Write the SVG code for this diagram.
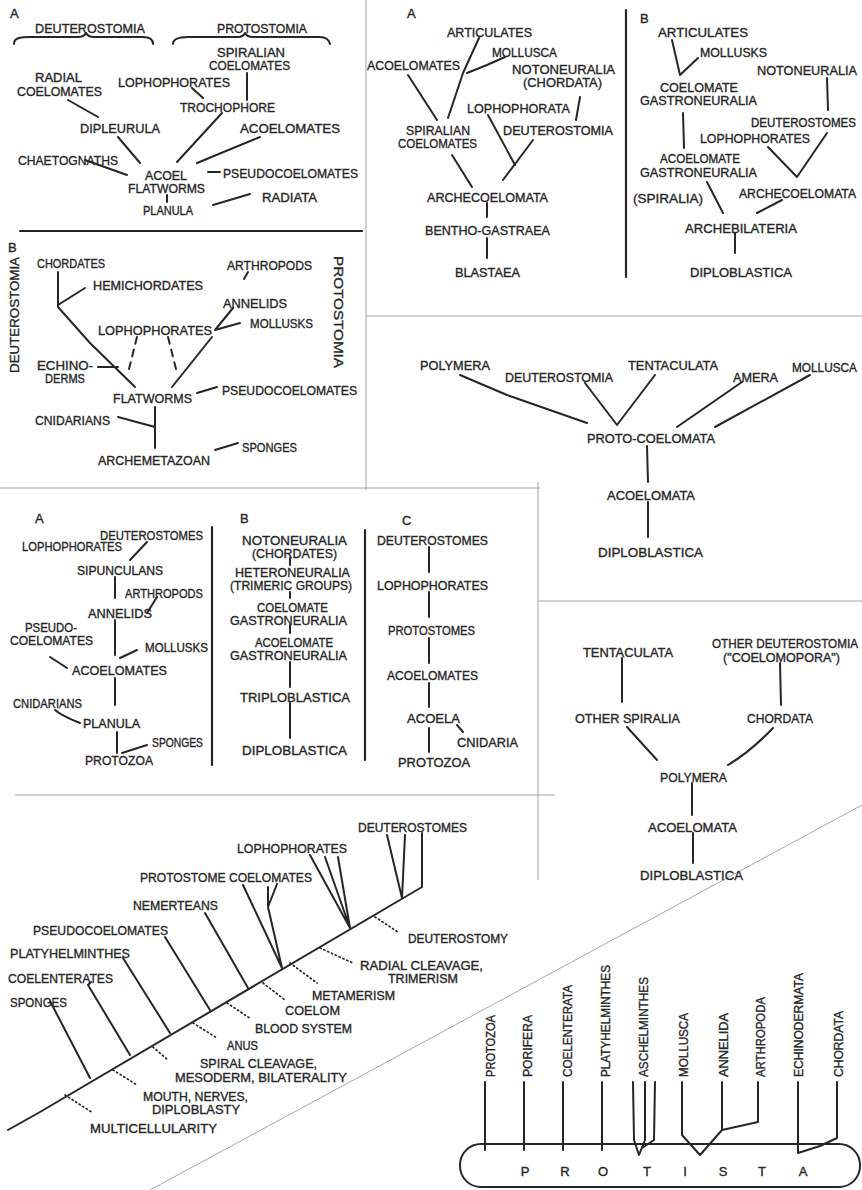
<svg xmlns="http://www.w3.org/2000/svg" width="862" height="1190" viewBox="0 0 862 1190">
<style>
.t{font-family:"Liberation Sans",Arial,sans-serif;font-size:13px;fill:#262626;stroke:#262626;stroke-width:0.35}
.s{font-size:12px}
.c{stroke:#262626;stroke-width:2;fill:none;stroke-linecap:round;stroke-linejoin:round}
.dot{stroke:#262626;stroke-width:1.7;fill:none;stroke-dasharray:1.2 3;stroke-linecap:round}
.dsh{stroke-dasharray:7 6}
.rule{stroke:#a6a6a6;stroke-width:1;fill:none}
.bar{stroke:#262626;stroke-width:2.2;fill:none;stroke-linecap:round}
</style>
<rect width="862" height="1190" fill="#ffffff"/>
<g id="frames">
<line class="rule" x1="366" y1="0" x2="366" y2="490"/>
<line class="rule" x1="366" y1="316" x2="862" y2="316"/>
<line class="rule" x1="0" y1="488" x2="540" y2="488"/>
<line class="rule" x1="538" y1="482" x2="538" y2="880"/>
<line class="rule" x1="538" y1="601" x2="862" y2="601"/>
<line class="rule" x1="15" y1="795" x2="555" y2="795"/>
<line class="rule" x1="150" y1="1190" x2="862" y2="805"/>
<line class="bar" x1="20" y1="231" x2="362" y2="231"/>
<line class="bar" x1="626" y1="10" x2="626" y2="277"/>
<line class="bar" x1="212" y1="527" x2="212" y2="765"/>
<line class="bar" x1="365" y1="530" x2="365" y2="760"/>
</g>
<g id="connectors">
<path class="c" d="M14,44 C14,38 20,37 30,37 L78,37 C83,37 85,35 86,33 C87,35 89,37 94,37 L143,37 C150,37 153,40 153,44"/>
<path class="c" d="M173,44 C173,39 178,37 188,37 L238,37 C242,37 244,35 245,33 C246,35 248,37 253,37 L320,37 C326,37 329,40 330,44"/>
<path class="c" d="M247,73 L247,100 M192,88 L203,98 M68,100 L98,117 M222,113 L177,162 M260,137 L197,163 M85,160 L127,175 M118,137 L140,163 M208,172 L220,172 M167,195 L167,202 M213,205 L250,194"/>
<path class="c" d="M479,38 L463,73 L448,118 M505,57 L487,65 L467,73 M408,75 L437,120 M580,97 L576,120 M488,115 L515,165 M533,140 L503,180 M452,155 L472,187 M487,203 L487,217 M487,238 L487,258"/>
<path class="c" d="M672,40 L680,75 L698,58 M683,113 L684,148 M827,78 L828,110 M768,147 L797,177 L827,133 M707,182 L723,213 M782,200 L757,213 M735,233 L735,253"/>
<path class="c" d="M58,272 L58,307 M85,288 L58,305 M58,307 L90,343 L135,387 M248,272 L244,279 M233,308 L215,330 M240,323 L215,330 M212,337 L172,387 M98,367 L118,367 M197,393 L217,387 M155,407 L155,448 M118,417 L155,427 M215,450 L238,443"/>
<path class="c dsh" d="M137,337 L128,373 M168,337 L177,373"/>
<path class="c" d="M460,375 L507,395 L587,423 M585,383 L617,425 L655,375 M742,382 L677,427 M810,375 L715,427 M647,446 L648,482 M648,502 L648,537"/>
<path class="c" d="M147,542 L130,560 M115,577 L115,598 M157,597 L147,613 M115,620 L115,655 M137,650 L120,658 M50,657 L67,668 M115,678 L115,705 M55,710 Q62,716 80,723 M117,732 L117,753 M147,745 L122,753"/>
<path class="c" d="M290,558 L290,565 M290,592 L290,598 M290,625 L290,633 M290,662 L290,687 M290,703 L290,738"/>
<path class="c" d="M429,547 L429,572 M429,592 L429,617 M429,638 L429,663 M429,683 L429,707 M457,725 L463,732 M429,728 L429,752"/>
<path class="c" d="M622,658 L622,702 M780,663 L781,705 M627,727 L657,760 M773,728 Q750,752 728,765 M692,783 L692,815 M693,833 L693,863"/>
<path class="c" d="M8,1130 L40,1112 L422,887 M90,1078 L50,1001 M130,1055 L88,985 L91,982 M170,1033 L123,958 M210,1010 L165,937 M248,988 L205,913 M282,968 L243,885 M282,968 L268,907 L268,887 M268,907 L277,884 M350,928 L310,855 M350,928 L325,857 M350,928 L338,857 M402,898 L387,835 M402,898 L405,835 M422,887 L422,833"/>
<path class="dot" d="M375,917 L398,932 M320,948 L353,963 M290,963 L317,983 M263,983 L285,1000 M227,1003 L251,1019 M193,1023 L217,1038 M153,1047 L168,1060 M113,1070 L137,1085 M65,1095 L93,1113"/>
<path class="c" d="M485,1082 L485,1150 M524,1082 L524,1150 M563,1082 L563,1150 M602,1082 L602,1150 M633,1082 L634,1140 L639,1155 L645,1140 L645,1082 M655,1082 L654,1140 L642,1148 M682,1082 L682,1135 L700,1155 L722,1130 L722,1082 M722,1130 L758,1122 L758,1082 M798,1082 L798,1153 L820,1146 L837,1138 L837,1082"/>
</g>
<g id="protista"><rect class="c" x="460" y="1144" width="400" height="43" rx="21"/>
<text class="t" x="525" y="1176" text-anchor="middle">P</text><text class="t" x="565" y="1176" text-anchor="middle">R</text><text class="t" x="603" y="1176" text-anchor="middle">O</text><text class="t" x="647" y="1176" text-anchor="middle">T</text><text class="t" x="685" y="1176" text-anchor="middle">I</text><text class="t" x="723" y="1176" text-anchor="middle">S</text><text class="t" x="762" y="1176" text-anchor="middle">T</text><text class="t" x="803" y="1176" text-anchor="middle">A</text></g>
<g id="p1-A"><text class="t" x="10" y="18">A</text></g>
<g id="p1-deuterostomia"><text class="t" x="35" y="33" textLength="110" lengthAdjust="spacingAndGlyphs">DEUTEROSTOMIA</text></g>
<g id="p1-protostomia"><text class="t" x="217" y="33" textLength="90" lengthAdjust="spacingAndGlyphs">PROTOSTOMIA</text></g>
<g id="p1-spiralian"><text class="t" x="217" y="57" textLength="68" lengthAdjust="spacingAndGlyphs">SPIRALIAN</text><text class="t" x="209" y="70" textLength="81" lengthAdjust="spacingAndGlyphs">COELOMATES</text></g>
<g id="p1-radial"><text class="t" x="35" y="82" textLength="47" lengthAdjust="spacingAndGlyphs">RADIAL</text><text class="t" x="17" y="96" textLength="85" lengthAdjust="spacingAndGlyphs">COELOMATES</text></g>
<g id="p1-lophophorates"><text class="t" x="118" y="87" textLength="112" lengthAdjust="spacingAndGlyphs">LOPHOPHORATES</text></g>
<g id="p1-trochophore"><text class="t" x="180" y="112" textLength="95" lengthAdjust="spacingAndGlyphs">TROCHOPHORE</text></g>
<g id="p1-dipleurula"><text class="t" x="80" y="133" textLength="80" lengthAdjust="spacingAndGlyphs">DIPLEURULA</text></g>
<g id="p1-acoelomates"><text class="t" x="240" y="133" textLength="100" lengthAdjust="spacingAndGlyphs">ACOELOMATES</text></g>
<g id="p1-chaetognaths"><text class="t" x="18" y="165" textLength="100" lengthAdjust="spacingAndGlyphs">CHAETOGNATHS</text></g>
<g id="p1-acoel"><text class="t" x="145" y="180" textLength="42" lengthAdjust="spacingAndGlyphs">ACOEL</text><text class="t" x="128" y="193" textLength="77" lengthAdjust="spacingAndGlyphs">FLATWORMS</text></g>
<g id="p1-pseudocoelomates"><text class="t" x="223" y="178" textLength="135" lengthAdjust="spacingAndGlyphs">PSEUDOCOELOMATES</text></g>
<g id="p1-planula"><text class="t" x="143" y="215" textLength="50" lengthAdjust="spacingAndGlyphs">PLANULA</text></g>
<g id="p1-radiata"><text class="t" x="262" y="202" textLength="55" lengthAdjust="spacingAndGlyphs">RADIATA</text></g>
<g id="p2-A"><text class="t" x="407" y="18">A</text></g>
<g id="p2-articulates"><text class="t" x="447" y="37" textLength="85" lengthAdjust="spacingAndGlyphs">ARTICULATES</text></g>
<g id="p2-mollusca"><text class="t" x="492" y="57" textLength="65" lengthAdjust="spacingAndGlyphs">MOLLUSCA</text></g>
<g id="p2-acoelomates"><text class="t" x="367" y="70" textLength="93" lengthAdjust="spacingAndGlyphs">ACOELOMATES</text></g>
<g id="p2-notoneuralia"><text class="t" x="512" y="74" textLength="103" lengthAdjust="spacingAndGlyphs">NOTONEURALIA</text><text class="t" x="523" y="87" textLength="79" lengthAdjust="spacingAndGlyphs">(CHORDATA)</text></g>
<g id="p2-lophophorata"><text class="t" x="467" y="113" textLength="103" lengthAdjust="spacingAndGlyphs">LOPHOPHORATA</text></g>
<g id="p2-spiralian"><text class="t" x="406" y="135" textLength="64" lengthAdjust="spacingAndGlyphs">SPIRALIAN</text><text class="t" x="398" y="148" textLength="79" lengthAdjust="spacingAndGlyphs">COELOMATES</text></g>
<g id="p2-deuterostomia"><text class="t" x="503" y="135" textLength="110" lengthAdjust="spacingAndGlyphs">DEUTEROSTOMIA</text></g>
<g id="p2-archecoelomata"><text class="t" x="427" y="202" textLength="121" lengthAdjust="spacingAndGlyphs">ARCHECOELOMATA</text></g>
<g id="p2-benthogastraea"><text class="t" x="425" y="235" textLength="125" lengthAdjust="spacingAndGlyphs">BENTHO-GASTRAEA</text></g>
<g id="p2-blastaea"><text class="t" x="455" y="277" textLength="65" lengthAdjust="spacingAndGlyphs">BLASTAEA</text></g>
<g id="p3-B"><text class="t" x="640" y="23">B</text></g>
<g id="p3-articulates"><text class="t" x="658" y="37" textLength="90" lengthAdjust="spacingAndGlyphs">ARTICULATES</text></g>
<g id="p3-mollusks"><text class="t" x="700" y="57" textLength="67" lengthAdjust="spacingAndGlyphs">MOLLUSKS</text></g>
<g id="p3-notoneuralia"><text class="t" x="757" y="75" textLength="100" lengthAdjust="spacingAndGlyphs">NOTONEURALIA</text></g>
<g id="p3-coelomate"><text class="t" x="660" y="92" textLength="78" lengthAdjust="spacingAndGlyphs">COELOMATE</text><text class="t" x="640" y="105" textLength="117" lengthAdjust="spacingAndGlyphs">GASTRONEURALIA</text></g>
<g id="p3-deuterostomes"><text class="t s" x="751" y="127" textLength="105" lengthAdjust="spacingAndGlyphs">DEUTEROSTOMES</text></g>
<g id="p3-lophophorates"><text class="t" x="700" y="143" textLength="110" lengthAdjust="spacingAndGlyphs">LOPHOPHORATES</text></g>
<g id="p3-acoelomate"><text class="t" x="660" y="163" textLength="80" lengthAdjust="spacingAndGlyphs">ACOELOMATE</text><text class="t" x="640" y="177" textLength="117" lengthAdjust="spacingAndGlyphs">GASTRONEURALIA</text></g>
<g id="p3-spiralia"><text class="t" x="633" y="203" textLength="70" lengthAdjust="spacingAndGlyphs">(SPIRALIA)</text></g>
<g id="p3-archecoelomata"><text class="t s" x="739" y="198" textLength="117" lengthAdjust="spacingAndGlyphs">ARCHECOELOMATA</text></g>
<g id="p3-archebilateria"><text class="t" x="685" y="233" textLength="112" lengthAdjust="spacingAndGlyphs">ARCHEBILATERIA</text></g>
<g id="p3-diploblastica"><text class="t" x="690" y="277" textLength="102" lengthAdjust="spacingAndGlyphs">DIPLOBLASTICA</text></g>
<g id="p4-B"><text class="t" x="8" y="252">B</text></g>
<g id="p4-deuterostomia"><text class="t" transform="translate(19,315) rotate(-90)" x="0" y="0" text-anchor="middle" textLength="116" lengthAdjust="spacingAndGlyphs">DEUTEROSTOMIA</text></g>
<g id="p4-protostomia"><text class="t" transform="translate(334,312) rotate(90)" x="0" y="0" text-anchor="middle" textLength="112" lengthAdjust="spacingAndGlyphs">PROTOSTOMIA</text></g>
<g id="p4-chordates"><text class="t" x="37" y="268" textLength="68" lengthAdjust="spacingAndGlyphs">CHORDATES</text></g>
<g id="p4-arthropods"><text class="t" x="227" y="270" textLength="85" lengthAdjust="spacingAndGlyphs">ARTHROPODS</text></g>
<g id="p4-hemichordates"><text class="t" x="93" y="290" textLength="110" lengthAdjust="spacingAndGlyphs">HEMICHORDATES</text></g>
<g id="p4-annelids"><text class="t" x="223" y="308" textLength="64" lengthAdjust="spacingAndGlyphs">ANNELIDS</text></g>
<g id="p4-mollusks"><text class="t" x="250" y="328" textLength="63" lengthAdjust="spacingAndGlyphs">MOLLUSKS</text></g>
<g id="p4-lophophorates"><text class="t" x="98" y="335" textLength="114" lengthAdjust="spacingAndGlyphs">LOPHOPHORATES</text></g>
<g id="p4-echinoderms"><text class="t" x="37" y="370" textLength="56" lengthAdjust="spacingAndGlyphs">ECHINO-</text><text class="t" x="45" y="383" textLength="40" lengthAdjust="spacingAndGlyphs">DERMS</text></g>
<g id="p4-flatworms"><text class="t" x="113" y="403" textLength="79" lengthAdjust="spacingAndGlyphs">FLATWORMS</text></g>
<g id="p4-pseudocoelomates"><text class="t" x="222" y="395" textLength="135" lengthAdjust="spacingAndGlyphs">PSEUDOCOELOMATES</text></g>
<g id="p4-cnidarians"><text class="t" x="35" y="425" textLength="75" lengthAdjust="spacingAndGlyphs">CNIDARIANS</text></g>
<g id="p4-sponges"><text class="t" x="242" y="452" textLength="55" lengthAdjust="spacingAndGlyphs">SPONGES</text></g>
<g id="p4-archemetazoan"><text class="t" x="98" y="465" textLength="112" lengthAdjust="spacingAndGlyphs">ARCHEMETAZOAN</text></g>
<g id="p5-polymera"><text class="t" x="420" y="370" textLength="70" lengthAdjust="spacingAndGlyphs">POLYMERA</text></g>
<g id="p5-deuterostomia"><text class="t" x="505" y="382" textLength="108" lengthAdjust="spacingAndGlyphs">DEUTEROSTOMIA</text></g>
<g id="p5-tentaculata"><text class="t" x="628" y="370" textLength="90" lengthAdjust="spacingAndGlyphs">TENTACULATA</text></g>
<g id="p5-amera"><text class="t" x="733" y="382" textLength="45" lengthAdjust="spacingAndGlyphs">AMERA</text></g>
<g id="p5-mollusca"><text class="t" x="792" y="372" textLength="65" lengthAdjust="spacingAndGlyphs">MOLLUSCA</text></g>
<g id="p5-protocoelomata"><text class="t" x="587" y="443" textLength="128" lengthAdjust="spacingAndGlyphs">PROTO-COELOMATA</text></g>
<g id="p5-acoelomata"><text class="t" x="607" y="500" textLength="88" lengthAdjust="spacingAndGlyphs">ACOELOMATA</text></g>
<g id="p5-diploblastica"><text class="t" x="598" y="557" textLength="105" lengthAdjust="spacingAndGlyphs">DIPLOBLASTICA</text></g>
<g id="p6a-A"><text class="t" x="35" y="523">A</text></g>
<g id="p6a-deuterostomes"><text class="t" x="100" y="540" textLength="103" lengthAdjust="spacingAndGlyphs">DEUTEROSTOMES</text></g>
<g id="p6a-lophophorates"><text class="t" x="22" y="551" textLength="100" lengthAdjust="spacingAndGlyphs">LOPHOPHORATES</text></g>
<g id="p6a-sipunculans"><text class="t" x="77" y="575" textLength="86" lengthAdjust="spacingAndGlyphs">SIPUNCULANS</text></g>
<g id="p6a-arthropods"><text class="t" x="125" y="598" textLength="78" lengthAdjust="spacingAndGlyphs">ARTHROPODS</text></g>
<g id="p6a-annelids"><text class="t" x="88" y="618" textLength="64" lengthAdjust="spacingAndGlyphs">ANNELIDS</text></g>
<g id="p6a-pseudocoelomates"><text class="t" x="25" y="632" textLength="52" lengthAdjust="spacingAndGlyphs">PSEUDO-</text><text class="t" x="10" y="645" textLength="83" lengthAdjust="spacingAndGlyphs">COELOMATES</text></g>
<g id="p6a-mollusks"><text class="t" x="145" y="652" textLength="63" lengthAdjust="spacingAndGlyphs">MOLLUSKS</text></g>
<g id="p6a-acoelomates"><text class="t" x="72" y="675" textLength="95" lengthAdjust="spacingAndGlyphs">ACOELOMATES</text></g>
<g id="p6a-cnidarians"><text class="t" x="13" y="708" textLength="69" lengthAdjust="spacingAndGlyphs">CNIDARIANS</text></g>
<g id="p6a-planula"><text class="t" x="83" y="728" textLength="57" lengthAdjust="spacingAndGlyphs">PLANULA</text></g>
<g id="p6a-sponges"><text class="t" x="152" y="747" textLength="51" lengthAdjust="spacingAndGlyphs">SPONGES</text></g>
<g id="p6a-protozoa"><text class="t" x="85" y="765" textLength="68" lengthAdjust="spacingAndGlyphs">PROTOZOA</text></g>
<g id="p6b-B"><text class="t" x="240" y="523">B</text></g>
<g id="p6b-notoneuralia"><text class="t" x="242" y="545" textLength="105" lengthAdjust="spacingAndGlyphs">NOTONEURALIA</text><text class="t" x="252" y="558" textLength="85" lengthAdjust="spacingAndGlyphs">(CHORDATES)</text></g>
<g id="p6b-heteroneuralia"><text class="t" x="235" y="577" textLength="115" lengthAdjust="spacingAndGlyphs">HETERONEURALIA</text><text class="t" x="230" y="590" textLength="122" lengthAdjust="spacingAndGlyphs">(TRIMERIC GROUPS)</text></g>
<g id="p6b-coelomate"><text class="t" x="257" y="612" textLength="71" lengthAdjust="spacingAndGlyphs">COELOMATE</text><text class="t" x="230" y="625" textLength="117" lengthAdjust="spacingAndGlyphs">GASTRONEURALIA</text></g>
<g id="p6b-acoelomate"><text class="t" x="255" y="647" textLength="78" lengthAdjust="spacingAndGlyphs">ACOELOMATE</text><text class="t" x="230" y="660" textLength="117" lengthAdjust="spacingAndGlyphs">GASTRONEURALIA</text></g>
<g id="p6b-triploblastica"><text class="t" x="240" y="702" textLength="110" lengthAdjust="spacingAndGlyphs">TRIPLOBLASTICA</text></g>
<g id="p6b-diploblastica"><text class="t" x="242" y="755" textLength="105" lengthAdjust="spacingAndGlyphs">DIPLOBLASTICA</text></g>
<g id="p6c-C"><text class="t" x="402" y="525">C</text></g>
<g id="p6c-deuterostomes"><text class="t" x="377" y="545" textLength="111" lengthAdjust="spacingAndGlyphs">DEUTEROSTOMES</text></g>
<g id="p6c-lophophorates"><text class="t" x="377" y="590" textLength="111" lengthAdjust="spacingAndGlyphs">LOPHOPHORATES</text></g>
<g id="p6c-protostomes"><text class="t" x="388" y="635" textLength="87" lengthAdjust="spacingAndGlyphs">PROTOSTOMES</text></g>
<g id="p6c-acoelomates"><text class="t" x="387" y="680" textLength="91" lengthAdjust="spacingAndGlyphs">ACOELOMATES</text></g>
<g id="p6c-acoela"><text class="t" x="407" y="723" textLength="53" lengthAdjust="spacingAndGlyphs">ACOELA</text></g>
<g id="p6c-cnidaria"><text class="t" x="457" y="747" textLength="61" lengthAdjust="spacingAndGlyphs">CNIDARIA</text></g>
<g id="p6c-protozoa"><text class="t" x="398" y="767" textLength="72" lengthAdjust="spacingAndGlyphs">PROTOZOA</text></g>
<g id="p7-tentaculata"><text class="t" x="583" y="657" textLength="90" lengthAdjust="spacingAndGlyphs">TENTACULATA</text></g>
<g id="p7-otherdeut"><text class="t s" x="712" y="648" textLength="146" lengthAdjust="spacingAndGlyphs">OTHER DEUTEROSTOMIA</text><text class="t" x="723" y="662" textLength="117" lengthAdjust="spacingAndGlyphs">("COELOMOPORA")</text></g>
<g id="p7-otherspiralia"><text class="t" x="575" y="723" textLength="105" lengthAdjust="spacingAndGlyphs">OTHER SPIRALIA</text></g>
<g id="p7-chordata"><text class="t" x="747" y="723" textLength="66" lengthAdjust="spacingAndGlyphs">CHORDATA</text></g>
<g id="p7-polymera"><text class="t" x="660" y="782" textLength="67" lengthAdjust="spacingAndGlyphs">POLYMERA</text></g>
<g id="p7-acoelomata"><text class="t" x="648" y="832" textLength="89" lengthAdjust="spacingAndGlyphs">ACOELOMATA</text></g>
<g id="p7-diploblastica"><text class="t" x="640" y="880" textLength="103" lengthAdjust="spacingAndGlyphs">DIPLOBLASTICA</text></g>
<g id="p8-deuterostomes"><text class="t" x="358" y="832" textLength="109" lengthAdjust="spacingAndGlyphs">DEUTEROSTOMES</text></g>
<g id="p8-lophophorates"><text class="t" x="237" y="853" textLength="110" lengthAdjust="spacingAndGlyphs">LOPHOPHORATES</text></g>
<g id="p8-protostomecoel"><text class="t" x="140" y="882" textLength="172" lengthAdjust="spacingAndGlyphs">PROTOSTOME COELOMATES</text></g>
<g id="p8-nemerteans"><text class="t" x="133" y="910" textLength="85" lengthAdjust="spacingAndGlyphs">NEMERTEANS</text></g>
<g id="p8-pseudocoelomates"><text class="t" x="33" y="935" textLength="135" lengthAdjust="spacingAndGlyphs">PSEUDOCOELOMATES</text></g>
<g id="p8-platyhelminthes"><text class="t" x="10" y="958" textLength="120" lengthAdjust="spacingAndGlyphs">PLATYHELMINTHES</text></g>
<g id="p8-coelenterates"><text class="t" x="8" y="983" textLength="105" lengthAdjust="spacingAndGlyphs">COELENTERATES</text></g>
<g id="p8-sponges"><text class="t" x="10" y="1007" textLength="57" lengthAdjust="spacingAndGlyphs">SPONGES</text></g>
<g id="p8-deuterostomy"><text class="t" x="408" y="943" textLength="100" lengthAdjust="spacingAndGlyphs">DEUTEROSTOMY</text></g>
<g id="p8-radial"><text class="t" x="360" y="970" textLength="123" lengthAdjust="spacingAndGlyphs">RADIAL CLEAVAGE,</text><text class="t" x="388" y="983" textLength="70" lengthAdjust="spacingAndGlyphs">TRIMERISM</text></g>
<g id="p8-metamerism"><text class="t" x="312" y="1000" textLength="83" lengthAdjust="spacingAndGlyphs">METAMERISM</text></g>
<g id="p8-coelom"><text class="t" x="285" y="1015" textLength="55" lengthAdjust="spacingAndGlyphs">COELOM</text></g>
<g id="p8-blood"><text class="t" x="255" y="1033" textLength="97" lengthAdjust="spacingAndGlyphs">BLOOD SYSTEM</text></g>
<g id="p8-anus"><text class="t" x="227" y="1050" textLength="31" lengthAdjust="spacingAndGlyphs">ANUS</text></g>
<g id="p8-spiral"><text class="t" x="200" y="1068" textLength="117" lengthAdjust="spacingAndGlyphs">SPIRAL CLEAVAGE,</text><text class="t" x="175" y="1082" textLength="172" lengthAdjust="spacingAndGlyphs">MESODERM, BILATERALITY</text></g>
<g id="p8-mouth"><text class="t" x="143" y="1101" textLength="105" lengthAdjust="spacingAndGlyphs">MOUTH, NERVES,</text><text class="t" x="152" y="1114" textLength="88" lengthAdjust="spacingAndGlyphs">DIPLOBLASTY</text></g>
<g id="p8-multicellularity"><text class="t" x="90" y="1133" textLength="127" lengthAdjust="spacingAndGlyphs">MULTICELLULARITY</text></g>
<g id="p9-protozoa"><text class="t s" transform="translate(494.5,1077) rotate(-90)" textLength="62" lengthAdjust="spacingAndGlyphs">PROTOZOA</text></g>
<g id="p9-porifera"><text class="t s" transform="translate(531.5,1077) rotate(-90)" textLength="62" lengthAdjust="spacingAndGlyphs">PORIFERA</text></g>
<g id="p9-coelenterata"><text class="t s" transform="translate(571.5,1077) rotate(-90)" textLength="92" lengthAdjust="spacingAndGlyphs">COELENTERATA</text></g>
<g id="p9-platyhelminthes"><text class="t s" transform="translate(609.5,1077) rotate(-90)" textLength="112" lengthAdjust="spacingAndGlyphs">PLATYHELMINTHES</text></g>
<g id="p9-aschelminthes"><text class="t s" transform="translate(647.5,1077) rotate(-90)" textLength="100" lengthAdjust="spacingAndGlyphs">ASCHELMINTHES</text></g>
<g id="p9-mollusca"><text class="t s" transform="translate(687.5,1077) rotate(-90)" textLength="64" lengthAdjust="spacingAndGlyphs">MOLLUSCA</text></g>
<g id="p9-annelida"><text class="t s" transform="translate(727.5,1077) rotate(-90)" textLength="64" lengthAdjust="spacingAndGlyphs">ANNELIDA</text></g>
<g id="p9-arthropoda"><text class="t s" transform="translate(764.5,1077) rotate(-90)" textLength="80" lengthAdjust="spacingAndGlyphs">ARTHROPODA</text></g>
<g id="p9-echinodermata"><text class="t s" transform="translate(802.5,1077) rotate(-90)" textLength="104" lengthAdjust="spacingAndGlyphs">ECHINODERMATA</text></g>
<g id="p9-chordata"><text class="t s" transform="translate(842.5,1077) rotate(-90)" textLength="66" lengthAdjust="spacingAndGlyphs">CHORDATA</text></g>
</svg>
